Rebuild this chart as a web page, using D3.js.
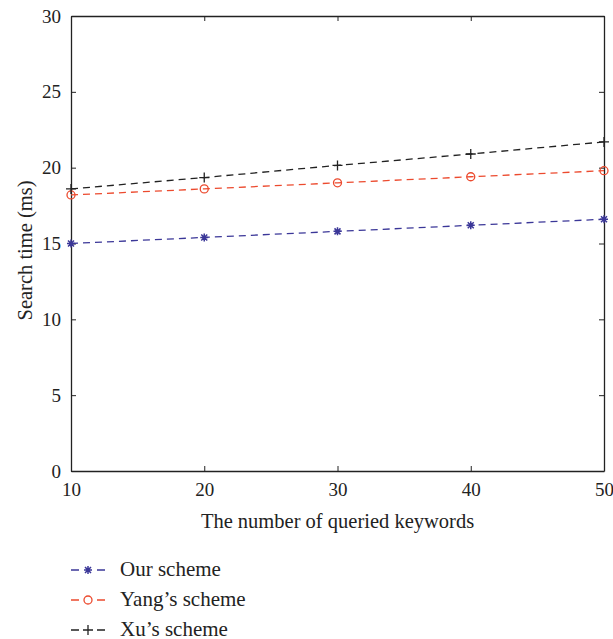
<!DOCTYPE html>
<html>
<head>
<meta charset="utf-8">
<script src="https://cdn.jsdelivr.net/npm/d3@7"></script>
<style>
  body { margin: 0; background: #fff; }
  text { font-family: "Liberation Serif", "DejaVu Serif", serif; fill: #222; }
</style>
</head>
<body>
<div id="chart"></div>
<script>
var keywords = [10, 20, 30, 40, 50];
var ourScheme = [15.0, 15.4, 15.8, 16.2, 16.6];
var yangScheme = [18.2, 18.6, 19.0, 19.4, 19.8];
var xuScheme = [18.6, 19.35, 20.15, 20.9, 21.7];
var xTicks = [10, 20, 30, 40, 50];
var yTicks = [0, 5, 10, 15, 20, 25, 30];

var series = [
	{name: "Our scheme", values: ourScheme, color: "#3b3798", marker: "star"},
	{name: "Yang\u2019s scheme", values: yangScheme, color: "#ec4a2e", marker: "circle"},
	{name: "Xu\u2019s scheme", values: xuScheme, color: "#222222", marker: "plus"}
];

var width = 613, height = 639,
	margin = {top: 16, right: 9, bottom: 168, left: 71},
	innerWidth = width - margin.left - margin.right,
	innerHeight = height - margin.top - margin.bottom;

var svg = d3.select("#chart").append("svg")
	.attr("width", width)
	.attr("height", height);

var g = svg.append("g")
	.attr("transform", "translate(" + margin.left + "," + margin.top + ")");

var xScale = d3.scaleLinear().domain([10, 50]).range([0, innerWidth]);
var yScale = d3.scaleLinear().domain([0, 30]).range([innerHeight, 0]);

function styleAxis(sel) {
	sel.select(".domain").attr("stroke", "#222").attr("stroke-width", 1.3);
	sel.selectAll(".tick line").attr("stroke", "#222");
	sel.selectAll(".tick text").style("font-size", "19px").attr("fill", "#222");
}

// bottom / left with labels, top / right ticks only, all ticks inward
g.append("g")
	.attr("transform", "translate(0," + innerHeight + ")")
	.call(d3.axisBottom(xScale).tickValues(xTicks).tickSizeInner(-5).tickSizeOuter(0).tickPadding(12))
	.call(styleAxis);

g.append("g")
	.call(d3.axisLeft(yScale).tickValues(yTicks).tickSizeInner(-5).tickSizeOuter(0).tickPadding(10))
	.call(styleAxis);

g.append("g")
	.call(d3.axisTop(xScale).tickValues(xTicks).tickSizeInner(-5).tickSizeOuter(0).tickFormat(""))
	.call(styleAxis)
	.selectAll(".tick text").remove();

g.append("g")
	.attr("transform", "translate(" + innerWidth + ",0)")
	.call(d3.axisRight(yScale).tickValues(yTicks).tickSizeInner(-5).tickSizeOuter(0).tickFormat(""))
	.call(styleAxis)
	.selectAll(".tick text").remove();

// axis titles
g.append("text")
	.attr("x", innerWidth / 2)
	.attr("y", innerHeight + 57)
	.attr("text-anchor", "middle")
	.style("font-size", "20.5px")
	.text("The number of queried keywords");

g.append("text")
	.attr("transform", "translate(-39," + (innerHeight / 2 + 7) + ") rotate(-90)")
	.attr("text-anchor", "middle")
	.style("font-size", "20.5px")
	.text("Search time (ms)");

var line = d3.line()
	.x(function(d, i) { return xScale(keywords[i]); })
	.y(function(d) { return yScale(d); });

function drawMarker(sel, type, color) {
	if (type === "circle") {
		sel.append("circle").attr("r", 4).attr("fill", "none").attr("stroke", color).attr("stroke-width", 1.3);
	} else if (type === "plus") {
		sel.append("path").attr("d", "M-5,0H5M0,-5V5").attr("stroke", color).attr("stroke-width", 1.3);
	} else {
		sel.append("path").attr("d", "M-4,0H4M0,-4V4M-3,-3L3,3M-3,3L3,-3").attr("stroke", color).attr("stroke-width", 1.5);
	}
}

series.forEach(function(s) {
	g.append("path")
		.datum(s.values)
		.attr("fill", "none")
		.attr("stroke", s.color)
		.attr("stroke-width", 1.3)
		.attr("stroke-dasharray", "7,5")
		.attr("d", line);

	g.selectAll(null)
		.data(s.values)
		.enter().append("g")
		.attr("transform", function(d, i) { return "translate(" + xScale(keywords[i]) + "," + yScale(d) + ")"; })
		.each(function() { drawMarker(d3.select(this), s.marker, s.color); });
});

// legend
var legend = svg.append("g").attr("transform", "translate(71,570)");
series.forEach(function(s, i) {
	var row = legend.append("g").attr("transform", "translate(0," + (i * 30) + ")");
	row.append("line").attr("x1", 0).attr("x2", 34).attr("y1", 0).attr("y2", 0)
		.attr("stroke", s.color).attr("stroke-width", 1.3).attr("stroke-dasharray", "8,18");
	row.append("g").attr("transform", "translate(17,0)")
		.call(function(sel) { drawMarker(sel, s.marker, s.color); });
	row.append("text").attr("x", 49).attr("y", 6).style("font-size", "21px").text(s.name);
});
</script>
</body>
</html>
